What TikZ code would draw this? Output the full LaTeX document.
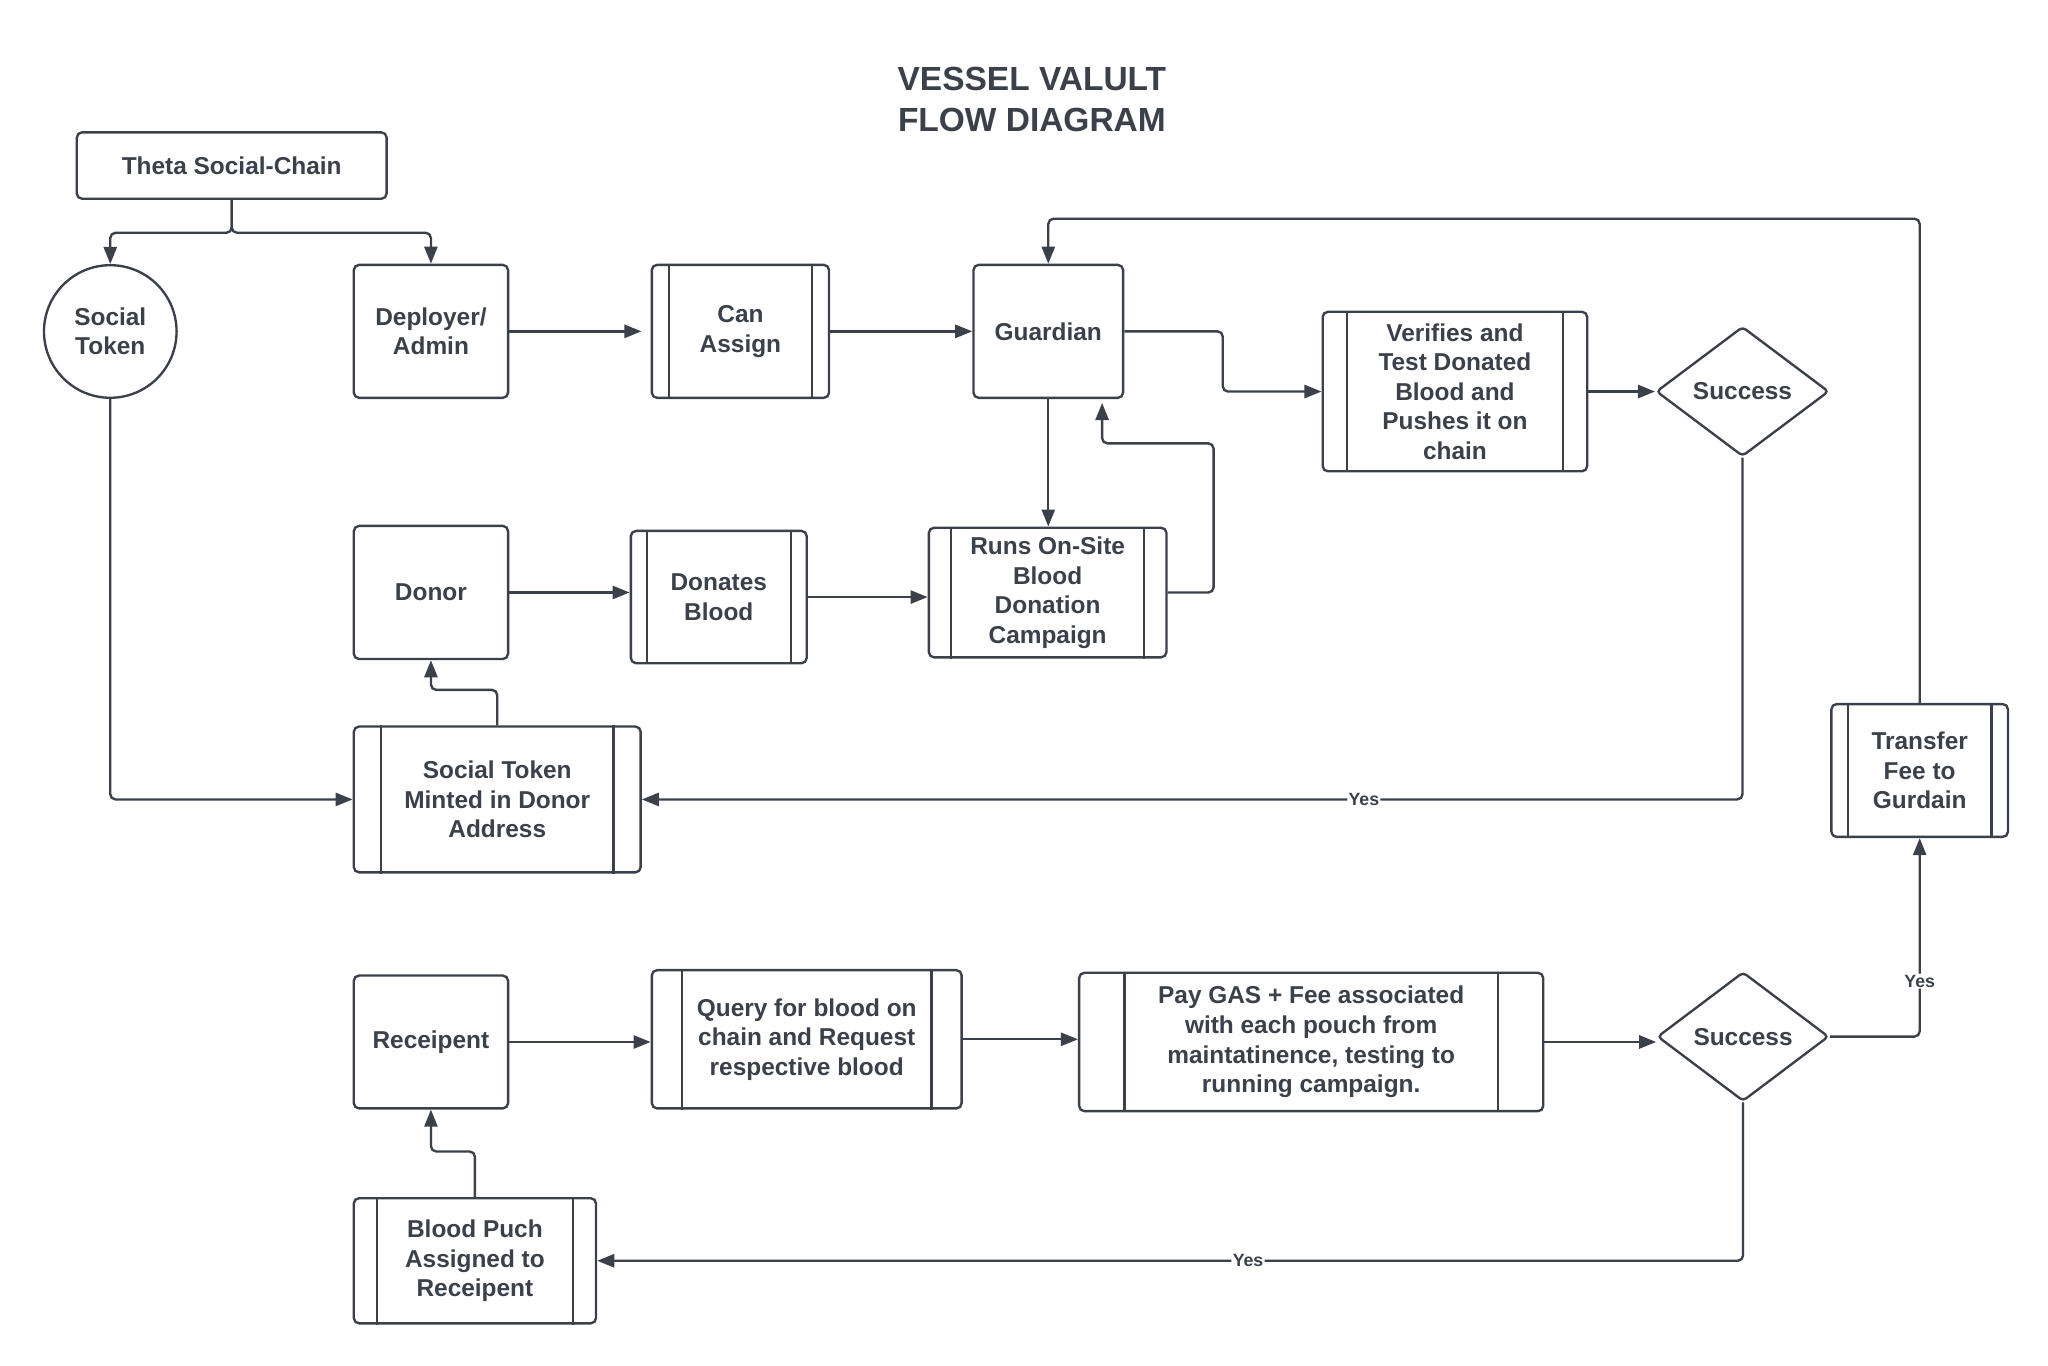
\documentclass[tikz,border=0pt]{standalone}
\usepackage{fontspec}
\setmainfont{Liberation Sans}
\usetikzlibrary{arrows.meta,shapes.geometric}
\definecolor{ink}{HTML}{3A414A}
\newcommand\innerlines[2]{\draw[ink, line width=1.8pt] ([xshift=#2pt]#1.north west) -- ([xshift=#2pt]#1.south west) ([xshift=-#2pt]#1.north east) -- ([xshift=-#2pt]#1.south east);}
\begin{document}
\begin{tikzpicture}[x=1pt,y=-1pt,
  every node/.style={text=ink, font=\fontsize{18.6}{22.5}\selectfont\bfseries, align=center, inner sep=0pt},
  box/.style={draw=ink, line width=1.8pt, rounded corners=4pt, fill=white},
  circ/.style={draw=ink, line width=1.8pt, circle, fill=white},
  dia/.style={draw=ink, line width=1.8pt, diamond, rounded corners=3pt, fill=white},
  line/.style={draw=ink, line width=1.8pt, rounded corners=4pt},
  arr/.style={line, -{Triangle[length=13pt,width=10pt]}},
  yes/.style={fill=white, text=ink, font=\fontsize{13.5}{16}\selectfont\bfseries, inner sep=1pt},
]
\fill[white] (0,0) rectangle (1560,1040);
\useasboundingbox (0,0) rectangle (1560,1040);

\node[font=\fontsize{25.5}{31}\selectfont\bfseries] (title) at (786,76) {VESSEL VALULT\\FLOW DIAGRAM};

\node[box, minimum width=236pt, minimum height=50.6pt] (theta) at (176.5,126.1) {Theta Social-Chain};
\node[circ, minimum size=101pt] (stoken) at (84,252.5) {Social\\Token};
\node[box, minimum width=117.5pt, minimum height=101.3pt] (deploy) at (328.25,252.4) {Deployer/\\Admin};
\node[box, minimum width=135pt, minimum height=101.3pt] (canassign) at (564,252.4) {Can\\Assign};
\innerlines{canassign}{14}
\node[box, minimum width=114pt, minimum height=101.3pt] (guardian) at (798.5,252.4) {Guardian};
\node[box, minimum width=201.5pt, minimum height=121.5pt] (verify) at (1108.25,298.25) {Verifies and\\Test Donated\\Blood and\\Pushes it on\\chain};
\innerlines{verify}{19.5}
\node[dia, minimum width=131.5pt, minimum height=98.8pt] (succ1) at (1327.3,298.2) {Success};
\node[box, minimum width=117.5pt, minimum height=101.4pt] (donor) at (328.25,451.3) {Donor};
\node[box, minimum width=134pt, minimum height=100.8pt] (donates) at (547.5,454.8) {Donates\\Blood};
\innerlines{donates}{13}
\node[box, minimum width=181pt, minimum height=98.7pt] (runs) at (798,451.35) {Runs On-Site\\Blood\\Donation\\Campaign};
\innerlines{runs}{18}
\node[box, minimum width=218.5pt, minimum height=111.1pt] (minted) at (378.75,608.95) {Social Token\\Minted in Donor\\Address};
\innerlines{minted}{21.5}
\node[box, minimum width=134.5pt, minimum height=101.2pt] (transfer) at (1462.25,586.9) {Transfer\\Fee to\\Gurdain};
\innerlines{transfer}{13.5}
\node[box, minimum width=117.5pt, minimum height=101.2pt] (receip) at (328.25,793.7) {Receipent};
\node[box, minimum width=236pt, minimum height=105.3pt] (query) at (614.5,791.65) {Query for blood on\\chain and Request\\respective blood};
\innerlines{query}{24}
\node[box, minimum width=353.5pt, minimum height=105.4pt] (pay) at (998.75,793.7) {Pay GAS + Fee associated\\with each pouch from\\maintatinence, testing to\\running campaign.};
\innerlines{pay}{35.5}
\node[dia, minimum width=130.5pt, minimum height=98.4pt] (succ2) at (1327.7,789.6) {Success};
\node[box, minimum width=184.5pt, minimum height=95.3pt] (blood) at (361.75,960.35) {Blood Puch\\Assigned to\\Receipent};
\innerlines{blood}{18.5}

\coordinate (gs) at ([xshift=41pt]guardian.south);

\draw[arr] (theta.south) -- ++(0,25) -| (stoken.north);
\draw[arr] (theta.south) -- ++(0,25) -| (deploy.north);
\draw[arr] (stoken.south) |- (minted.west);
\draw[arr, shorten >=7pt] (deploy.east) -- (canassign.west);
\draw[arr] (canassign.east) -- (guardian.west);
\draw[arr] (guardian.east) -- ++(75,0) |- (verify.west);
\draw[arr] (verify.east) -- (verify.east -| succ1.west);
\draw[arr] (guardian.south) -- (guardian.south |- runs.north);
\draw[arr, shorten >=3pt] (runs.east) -- ++(35,0) -- ++(0,-113.65) -| (gs);
\draw[arr] (donor.east) -- (donor.east -| donates.west);
\draw[arr] (donates.east) -- (donates.east -| runs.west);
\draw[arr] (minted.north) -- ++(0,-27) -| (donor.south);
\draw[arr] (succ1.south) |- node[yes, pos=0.672]{Yes} (minted.east);
\draw[arr] (succ2.east) -| node[yes, pos=0.64]{Yes} (transfer.south);
\draw[arr] (transfer.north) -- ++(0,-368.8) -| (guardian.north);
\draw[arr] (receip.east) -- (receip.east -| query.west);
\draw[arr] (query.east) -- (query.east -| pay.west);
\draw[arr] (pay.east) -- (pay.east -| succ2.west);
\draw[arr] (succ2.south) |- node[yes, pos=0.716]{Yes} (blood.east);
\draw[arr] (blood.north) -- ++(0,-34.7) -| (receip.south);
\end{tikzpicture}
\end{document}
